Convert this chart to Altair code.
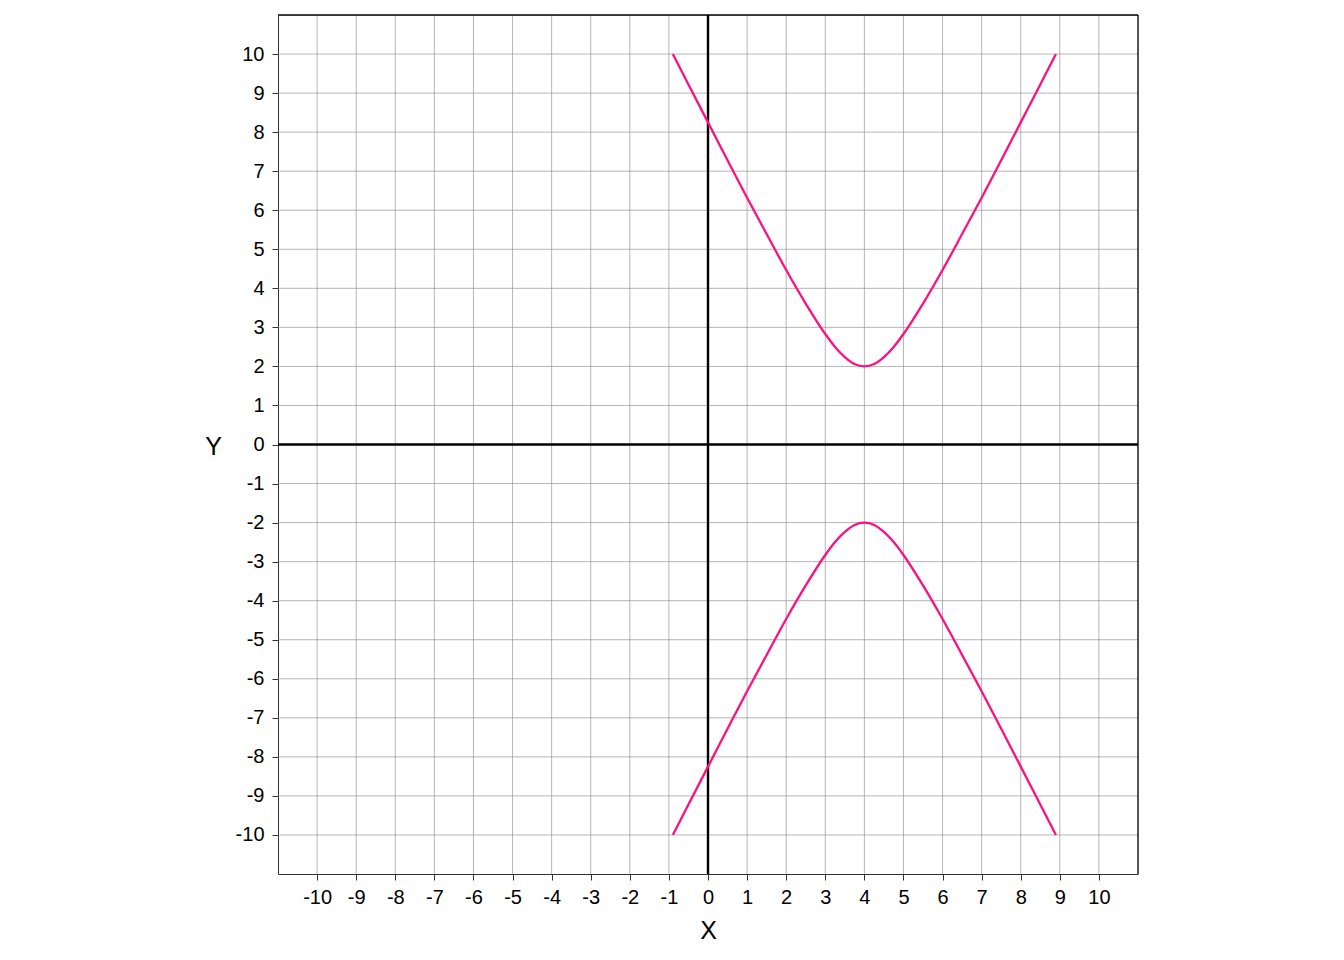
import altair as alt
import pandas as pd

# values
x_vals = [-0.9, -0.5, 0.0, 0.5, 1.0, 1.5, 2.0, 2.5, 3.0, 3.25, 3.5, 3.75, 4.0,
          4.25, 4.5, 4.75, 5.0, 5.5, 6.0, 6.5, 7.0, 7.5, 8.0, 8.5, 8.9]
upper_y = [10.0, 9.22, 8.25, 7.28, 6.32, 5.39, 4.47, 3.61, 2.83, 2.50, 2.24, 2.06, 2.0,
           2.06, 2.24, 2.50, 2.83, 3.61, 4.47, 5.39, 6.32, 7.28, 8.25, 9.22, 10.0]
lower_y = [-10.0, -9.22, -8.25, -7.28, -6.32, -5.39, -4.47, -3.61, -2.83, -2.50, -2.24, -2.06, -2.0,
           -2.06, -2.24, -2.50, -2.83, -3.61, -4.47, -5.39, -6.32, -7.28, -8.25, -9.22, -10.0]
tick_vals = list(range(-10, 11))
grid_vals = list(range(-10, 11))

rows = []
for i, x in enumerate(x_vals):
    rows.append({"x": x, "y": upper_y[i], "branch": "upper", "order": i})
for i, x in enumerate(x_vals):
    rows.append({"x": x, "y": lower_y[i], "branch": "lower", "order": i})
df = pd.DataFrame(rows)

FONT = "Liberation Sans"
xscale = alt.Scale(domain=[-11, 11], nice=False, zero=False)
yscale = alt.Scale(domain=[-11, 11], nice=False, zero=False)
LBL = "'' + datum.value"

xaxis = alt.Axis(values=tick_vals, grid=False, title="X", labelFontSize=20, titleFontSize=25,
                 labelFont=FONT, titleFont=FONT, labelColor="black", titleColor="black",
                 titleFontWeight="normal", tickSize=6, tickColor="#333333", domainColor="#333333",
                 labelPadding=7, titleY=64, titleBaseline="alphabetic", labelExpr=LBL,
                 labelOverlap=False)
yaxis = alt.Axis(values=tick_vals, grid=False, title="Y", labelFontSize=20, titleFontSize=25,
                 labelFont=FONT, titleFont=FONT, labelColor="black", titleColor="black",
                 titleFontWeight="normal", tickSize=6, tickColor="#333333", domainColor="#333333",
                 labelPadding=8, titleAngle=0, titleX=-65, titleY=431, titleAlign="center",
                 titleBaseline="middle", labelExpr=LBL, labelOverlap=False)

grid_df = pd.DataFrame({"g": grid_vals})
vgrid = alt.Chart(grid_df).mark_rule(color="#8a8a8a", strokeWidth=0.8, opacity=0.8).encode(
    x=alt.X("g:Q", scale=xscale, axis=xaxis))
hgrid = alt.Chart(grid_df).mark_rule(color="#8a8a8a", strokeWidth=0.8, opacity=0.8).encode(
    y=alt.Y("g:Q", scale=yscale, axis=yaxis))

edge_df = pd.DataFrame({"e": [11]})
top_edge = alt.Chart(edge_df).mark_rule(color="black", strokeWidth=1.3).encode(
    y=alt.Y("e:Q", scale=yscale))
right_edge = alt.Chart(edge_df).mark_rule(color="black", strokeWidth=1.3).encode(
    x=alt.X("e:Q", scale=xscale))

zero_df = pd.DataFrame({"z": [0]})
vzero = alt.Chart(zero_df).mark_rule(color="black", strokeWidth=2.4).encode(
    x=alt.X("z:Q", scale=xscale))
hzero = alt.Chart(zero_df).mark_rule(color="black", strokeWidth=2.4).encode(
    y=alt.Y("z:Q", scale=yscale))

lines = alt.Chart(df).mark_line(color="#FF1080", strokeWidth=2.3, interpolate="monotone").encode(
    x=alt.X("x:Q", scale=xscale),
    y=alt.Y("y:Q", scale=yscale),
    detail="branch:N",
    order="order:Q",
)

chart = alt.layer(vgrid, hgrid, top_edge, right_edge, vzero, hzero, lines).properties(
    width=860, height=859,
    autosize=alt.AutoSizeParams(type="none"),
    padding={"left": 270, "top": 7, "right": 190, "bottom": 78},
).configure_view(stroke="black", strokeWidth=1.2).configure(background="white")

chart.save("out.html", embed_options={"renderer": "svg", "actions": False})
